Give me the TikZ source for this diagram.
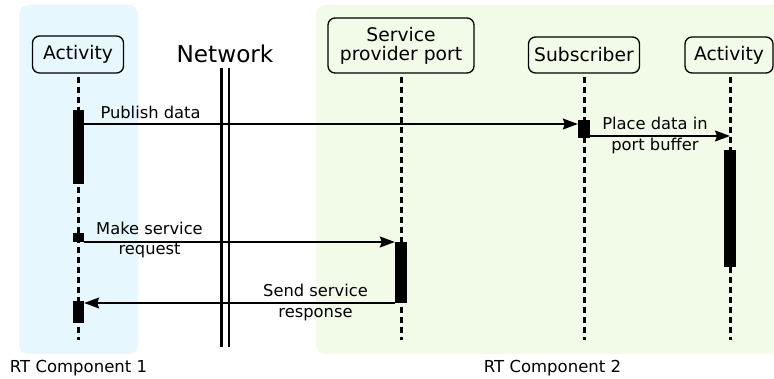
\documentclass[tikz,border=0pt]{standalone}
\usepackage{fontspec}
\setmainfont{DejaVu Sans}
\usetikzlibrary{arrows.meta}
\definecolor{bgblue}{HTML}{E6F8FD}
\definecolor{bggreen}{HTML}{F2FBE7}
\begin{document}
\begin{tikzpicture}[x=1pt,y=-1pt,
  header/.style={draw,line width=1.3pt,rounded corners=7pt,font=\fontsize{18.7}{21}\selectfont,align=center,inner sep=0pt},
  lifeline/.style={line width=3pt,dash pattern=on 6pt off 4pt},
  actbar/.style={fill=black,draw=none,inner sep=0pt,minimum width=11pt},
  msg/.style={line width=1.3pt,-{Stealth[length=15pt,width=11pt,inset=2pt]}},
  lbl/.style={font=\fontsize{16.3}{20.5}\selectfont,align=center,inner sep=0pt},
  comp/.style={font=\fontsize{16.5}{18}\selectfont,inner sep=0pt}]
\useasboundingbox (0,0) rectangle (774,379);
\fill[bgblue,rounded corners=9pt] (19,5) rectangle (138,354);
\fill[bggreen,rounded corners=9pt] (316,5) rectangle (790,354);
% headers
\node[header,minimum width=91pt,minimum height=37pt] (a1) at (78,54.5) {Activity};
\node[header,minimum width=146pt,minimum height=55pt] (sp) at (401,45.5) {Service\\[-2pt]provider port};
\node[header,minimum width=111pt,minimum height=36pt] (sub) at (584,55) {Subscriber};
\node[header,minimum width=88pt,minimum height=36pt] (a2) at (729,55) {Activity};
\node[font=\fontsize{23.2}{26}\selectfont,inner sep=0pt] (net) at (225,54) {Network};
% network lines
\draw[line width=2.5pt] (221.5,68) -- (221.5,347);
\draw[line width=2.5pt] (229,68) -- (229,347);
% lifelines
\coordinate (a1e) at (78,340);
\coordinate (spe) at (401,340);
\coordinate (sube) at (584,340);
\coordinate (a2e) at (730,340);
\draw[lifeline] (78,77) -- (a1e);
\draw[lifeline] (401,77) -- (spe);
\draw[lifeline] (584,77) -- (sube);
\draw[lifeline] (730,77) -- (a2e);
% activation bars
\node[actbar,minimum height=74pt] (b1) at (78.5,147) {};
\node[actbar,minimum height=9pt] (b2) at (78.5,238) {};
\node[actbar,minimum height=22pt] (b3) at (78.5,312) {};
\node[actbar,minimum height=18pt,minimum width=12pt] (bs) at (584,129) {};
\node[actbar,minimum height=117pt,minimum width=12pt] (ba) at (730,208.5) {};
\node[actbar,minimum height=61pt,minimum width=12pt] (bp) at (401,272.5) {};
% messages
\coordinate (pa2) at (730,136);
\draw[msg] (b1.east |- 0,124) -- (bs.west |- 0,124);
\node[lbl] (l1) at (150.5,112.5) {Publish data};
\draw[msg] (bs.east |- 0,136) -- (pa2);
\node[lbl] (l2) at (655,135.5) {Place data in\\port buffer};
\draw[msg] (b2.east |- 0,242) -- (bp.west |- 0,242);
\node[lbl] (l3) at (149.5,240) {Make service\\request};
\draw[msg] (bp.west |- 0,303) -- (b3.east |- 0,303);
\node[lbl] (l4) at (315.5,302.5) {Send service\\response};
% component labels
\node[comp] (c1) at (78.5,368) {RT Component 1};
\node[comp] (c2) at (552.5,368) {RT Component 2};
\end{tikzpicture}
\end{document}
